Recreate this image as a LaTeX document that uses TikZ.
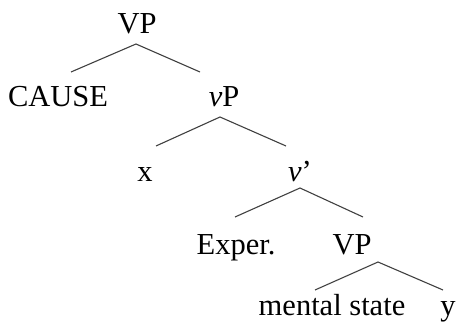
\documentclass[tikz,border=0pt]{standalone}
\usepackage{fontspec}
\setmainfont{Liberation Serif}
\begin{document}
\begin{tikzpicture}[x=1pt,y=-1pt,
  lbl/.style={anchor=base,inner sep=0pt,font=\fontsize{30.5}{36}\selectfont},
  edge/.style={draw=black!75,line width=1.1pt}]
\useasboundingbox (0,0) rectangle (463,328);
\node[lbl] (vp1) at (137,34) {VP};
\node[lbl] (cause) at (58,107) {CAUSE};
\node[lbl] (vp2) at (224,107) {\textit{v}P};
\node[lbl] (x) at (145,182) {x};
\node[lbl] (vbar) at (300,182) {\textit{v}'};
\node[lbl] (exper) at (236,255) {Exper.};
\node[lbl] (vp3) at (352,255) {VP};
\node[lbl] (ms) at (332,316) {mental state};
\node[lbl] (y) at (448,316) {y};
\coordinate (t1) at (136,44);
\coordinate (l1) at (71,72);
\coordinate (r1) at (200,72);
\coordinate (t2) at (220,117);
\coordinate (l2) at (156,146);
\coordinate (r2) at (286,146);
\coordinate (t3) at (300,188);
\coordinate (l3) at (235,217);
\coordinate (r3) at (363,217);
\coordinate (t4) at (378,262);
\coordinate (l4) at (315,290);
\coordinate (r4) at (443,290);
\draw[edge] (l1) -- (t1) -- (r1);
\draw[edge] (l2) -- (t2) -- (r2);
\draw[edge] (l3) -- (t3) -- (r3);
\draw[edge] (l4) -- (t4) -- (r4);
\end{tikzpicture}
\end{document}
